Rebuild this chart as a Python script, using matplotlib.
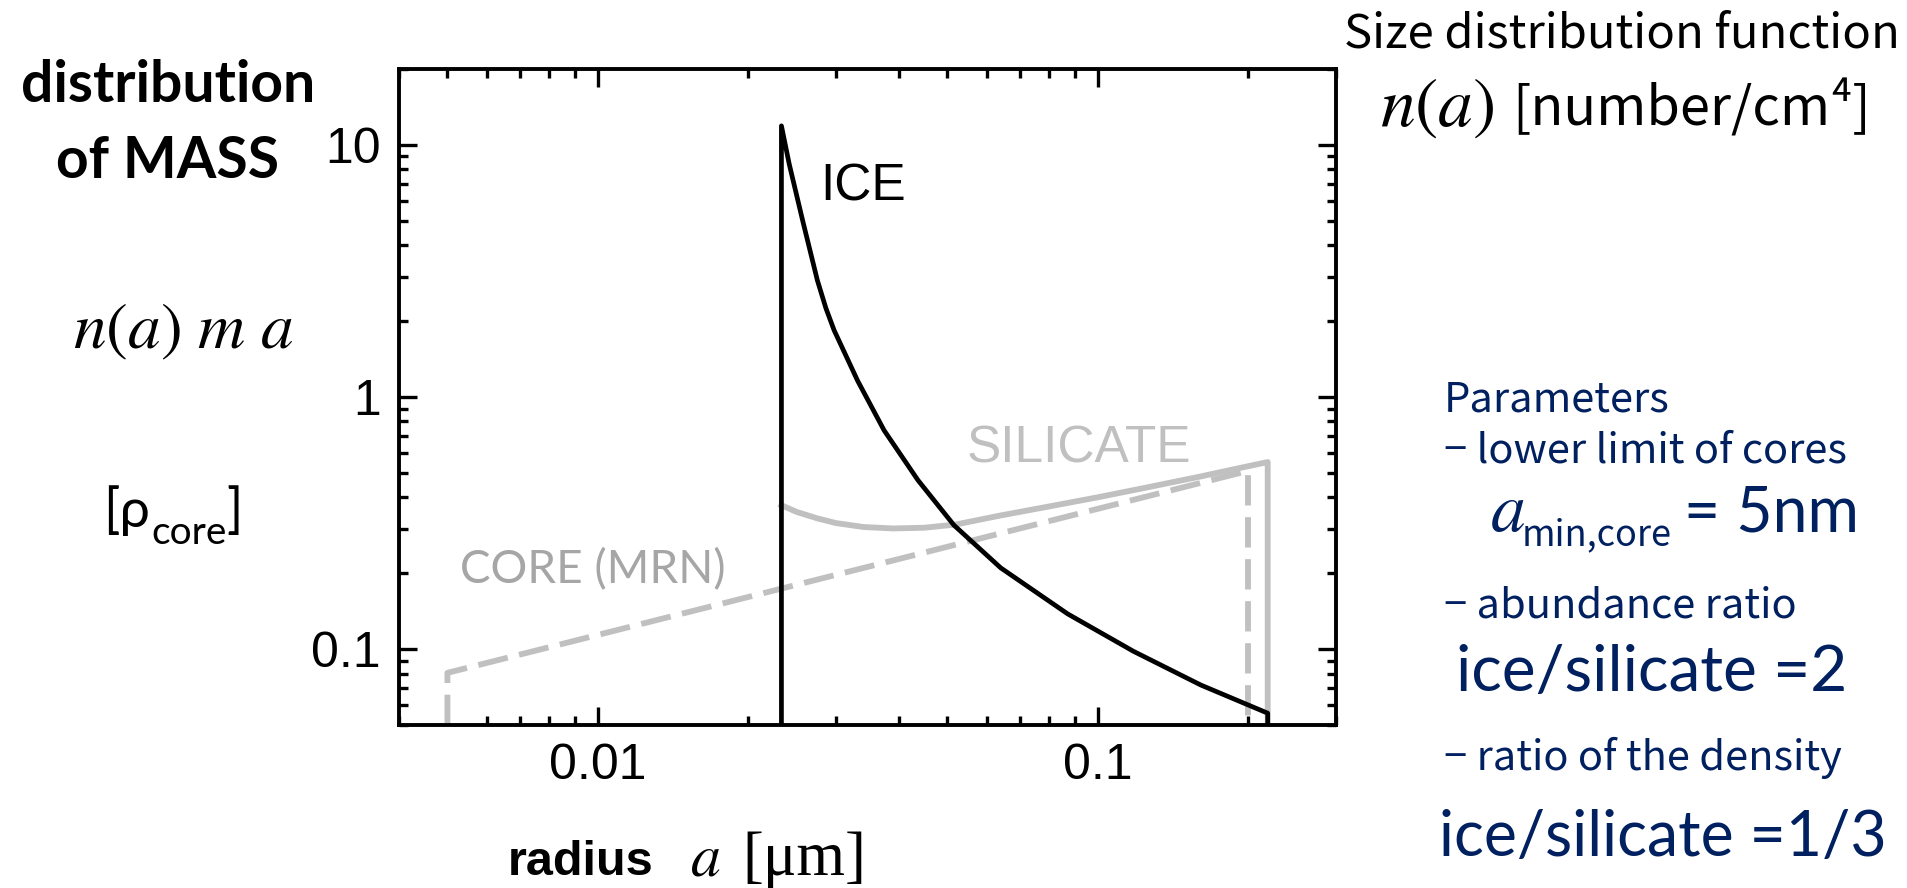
import matplotlib.pyplot as plt
from matplotlib.ticker import FixedLocator, LogLocator, NullFormatter

W, H = 1907, 888

# axis range
x_lim = (0.004, 0.3)
y_lim = (0.05, 20)

# CORE (MRN) - dashed grey
core_a = [0.005, 0.005, 0.2, 0.2]
core_y = [0.05, 0.0805, 0.509, 0.05]

# SILICATE - solid grey
sil_a = [0.0233, 0.025, 0.0275, 0.03, 0.034, 0.039, 0.045, 0.052, 0.064,
         0.08, 0.1, 0.125, 0.16, 0.19, 0.219, 0.219]
sil_y = [0.372, 0.350, 0.330, 0.316, 0.305, 0.301, 0.303, 0.312, 0.339,
         0.368, 0.400, 0.437, 0.483, 0.520, 0.552, 0.05]

# ICE - solid black
ice_a = [0.0233, 0.0233, 0.02415, 0.0257, 0.0275, 0.0286, 0.0297, 0.0331, 0.0374,
         0.0437, 0.0516, 0.064, 0.0871, 0.118, 0.161, 0.219, 0.219]
ice_y = [0.05, 11.9, 8.4, 5.0, 2.9, 2.25, 1.84, 1.16, 0.737,
         0.468, 0.31, 0.21, 0.138, 0.098, 0.072, 0.0557, 0.05]

x_ticks = [0.01, 0.1]
x_labels = ['0.01', '0.1']
y_ticks = [0.1, 1, 10]
y_labels = ['0.1', '1', '10']

GREY = '#c0c0c0'
NAVY = '#002060'


def fx(x):
    return x / W


def fy(y):
    return 1 - y / H


fig = plt.figure(figsize=(W / 100, H / 100), dpi=100)
ax = fig.add_axes([fx(399), fy(725), (1336 - 399) / W, (725 - 69) / H])

ax.plot(core_a, core_y, color=GREY, lw=4.2, dashes=(5.2, 2.0), solid_capstyle='butt')
ax.plot(sil_a, sil_y, color=GREY, lw=4.2)
ax.plot(ice_a, ice_y, color='black', lw=3.4)

ax.set_xscale('log')
ax.set_yscale('log')
ax.set_xlim(*x_lim)
ax.set_ylim(*y_lim)

ax.xaxis.set_major_locator(FixedLocator(x_ticks))
ax.yaxis.set_major_locator(FixedLocator(y_ticks))
ax.set_xticklabels(x_labels)
ax.set_yticklabels(y_labels)
ax.xaxis.set_minor_locator(LogLocator(base=10, subs=range(2, 10)))
ax.yaxis.set_minor_locator(LogLocator(base=10, subs=range(2, 10)))
ax.xaxis.set_minor_formatter(NullFormatter())
ax.yaxis.set_minor_formatter(NullFormatter())

ax.tick_params(which='both', direction='in', top=True, right=True, width=2.4,
               labelsize=36, pad=13)
ax.tick_params(which='major', length=13)
ax.tick_params(which='minor', length=6.5)
for lab in ax.get_xticklabels() + ax.get_yticklabels():
    lab.set_family('Liberation Sans')
for sp in ax.spines.values():
    sp.set_linewidth(2.8)

# labels inside the plot
ax.text(0.0279, 6.0, 'ICE', fontsize=37, family='Liberation Sans', va='baseline')
ax.text(0.0546, 0.55, 'SILICATE', fontsize=37, family='Liberation Sans',
        color=GREY, va='baseline')
ax.text(0.0053, 0.182, 'CORE (MRN)', fontsize=33, family='Lato',
        color='#a6a6a6', va='baseline')

# left side
fig.text(fx(168), fy(102), 'distribution', ha='center', va='baseline',
         fontsize=41, fontweight='bold', family='Lato')
fig.text(fx(168), fy(178), 'of MASS', ha='center', va='baseline',
         fontsize=41, fontweight='bold', family='Lato')
fig.text(fx(183), fy(348), r'$n(a)\ m\ a$', ha='center', va='baseline',
         fontsize=47, math_fontfamily='stix')
fig.text(fx(103), fy(527), '[ρ', fontsize=39, family=['Lato', 'DejaVu Sans'], va='baseline')
fig.text(fx(151), fy(544), 'core', fontsize=28, family='Lato', va='baseline')
fig.text(fx(226), fy(527), ']', fontsize=39, family='Lato', va='baseline')

# bottom axis title
fig.text(fx(508), fy(875), 'radius', fontsize=35, fontweight='bold',
         family='Liberation Sans', va='baseline')
fig.text(fx(690), fy(875), r'$a$', fontsize=43, math_fontfamily='stix', va='baseline')
fig.text(fx(742), fy(875), '[μm]', fontsize=45, family='Liberation Serif', va='baseline')

# right side
cjk = ['Noto Sans CJK JP', 'DejaVu Sans']
fig.text(fx(1900), fy(48), 'Size distribution function', ha='right', va='baseline',
         fontsize=34, family=cjk)
fig.text(fx(1380), fy(126), r'$n(a)$', fontsize=50, math_fontfamily='stix', va='baseline')
fig.text(fx(1512), fy(126), '[number/cm⁴]', fontsize=39, family=cjk, va='baseline')

fig.text(fx(1444), fy(411), 'Parameters', fontsize=30, family=cjk, color=NAVY, va='baseline')
fig.text(fx(1444), fy(462), '\u2212 lower limit of cores', fontsize=30, family=cjk,
         color=NAVY, va='baseline')
fig.text(fx(1490), fy(531), r'$a$', fontsize=50, math_fontfamily='stix', color=NAVY,
         va='baseline')
fig.text(fx(1522), fy(545), 'min,core', fontsize=26, family=cjk, color=NAVY, va='baseline')
fig.text(fx(1684), fy(531), '= 5nm', fontsize=45, family='Lato', color=NAVY, va='baseline')
fig.text(fx(1444), fy(617), '\u2212 abundance ratio', fontsize=30, family=cjk,
         color=NAVY, va='baseline')
fig.text(fx(1456), fy(691), 'ice/silicate =2', fontsize=46, family='Lato', color=NAVY,
         va='baseline')
fig.text(fx(1444), fy(770), '\u2212 ratio of the density', fontsize=30, family=cjk,
         color=NAVY, va='baseline')
fig.text(fx(1439), fy(856), 'ice/silicate =1/3', fontsize=45, family='Lato', color=NAVY,
         va='baseline')

fig.savefig('out.png', dpi=100)
